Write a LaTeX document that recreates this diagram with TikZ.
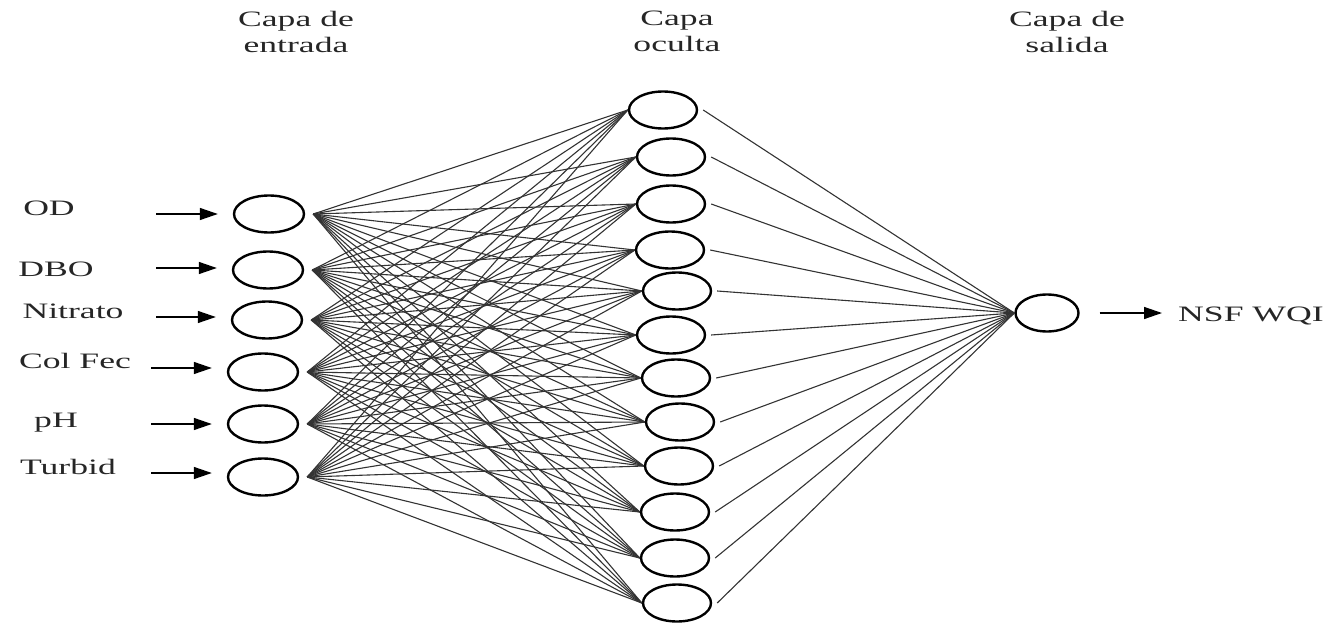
\documentclass[tikz,border=0pt]{standalone}
\usepackage{graphicx}
\usepackage{fontspec}
\setmainfont{Liberation Serif}
\usetikzlibrary{shapes.geometric,arrows.meta}
% horizontally widened text
\newcommand{\wide}[1]{\scalebox{1.62}[1]{#1}}
\begin{document}
\begin{tikzpicture}[x=1pt,y=-1pt,
  neuron/.style={ellipse,draw,line width=2.4pt,minimum width=70pt,minimum height=37pt,inner sep=0pt},
  link/.style={line width=1.1pt,draw=black!80},
  feed/.style={line width=1.4pt,-{Triangle[length=18pt,width=12pt]}},
  lbl/.style={font=\fontsize{22}{26}\selectfont,anchor=base,inner sep=0pt,text=black!85},
  ttl/.style={lbl,align=center}]
\useasboundingbox (0,0) rectangle (1333,623);

% layer titles (anchored at the baseline of the second line)
\node[ttl] (t1) at (296,53) {\wide{Capa de}\\\wide{entrada}};
\node[ttl] (t2) at (677,52) {\wide{Capa}\\\wide{oculta}};
\node[ttl] (t3) at (1067,53) {\wide{Capa de}\\\wide{salida}};

% input layer
\node[neuron] (i1) at (269,214) {};
\node[neuron] (i2) at (268,270) {};
\node[neuron] (i3) at (267,320) {};
\node[neuron] (i4) at (263,372) {};
\node[neuron] (i5) at (263,424) {};
\node[neuron] (i6) at (263,477) {};

% input labels
\node[lbl] (l1) at (49,215) {\wide{OD}};
\node[lbl] (l2) at (56,276) {\wide{DBO}};
\node[lbl] (l3) at (73,318) {\wide{Nitrato}};
\node[lbl] (l4) at (75,368) {\wide{Col Fec}};
\node[lbl] (l5) at (56,427) {\wide{pH}};
\node[lbl] (l6) at (68,474) {\wide{Turbid}};

% input arrows
\coordinate (a1) at (156,214);
\coordinate (a2) at (156,268);
\coordinate (a3) at (156,317);
\coordinate (a4) at (151,368);
\coordinate (a5) at (151,424);
\coordinate (a6) at (151,473);
\foreach \k in {1,...,6}
  \draw[feed,shorten >=15pt] (a\k) -- (a\k -| i\k.west);

% hidden layer
\foreach \j/\x/\y in {1/663/110,2/671/157,3/671/204,4/670/250,5/677/291,6/671/335,
                      7/676/378,8/680/422,9/679/466,10/675/512,11/675/558,12/677/603}
  \node[neuron,minimum width=68pt] (h\j) at (\x,\y) {};

% output layer
\node[neuron,minimum width=63pt] (o) at (1047,313) {};
\coordinate (r) at (1162,313);
\draw[feed,shorten <=20pt] (o.east) -- (r);
\node[lbl,anchor=base west] (out) at (1178,321) {\wide{NSF WQI}};

% connections
\foreach \k in {1,...,6}
  \foreach \j in {1,...,12}
    \draw[link] ([xshift=8pt]i\k.east) -- (h\j.west);
\foreach \j in {1,...,12}
  \draw[link] ([xshift=5pt]h\j.east) -- (o.west);
\end{tikzpicture}
\end{document}
